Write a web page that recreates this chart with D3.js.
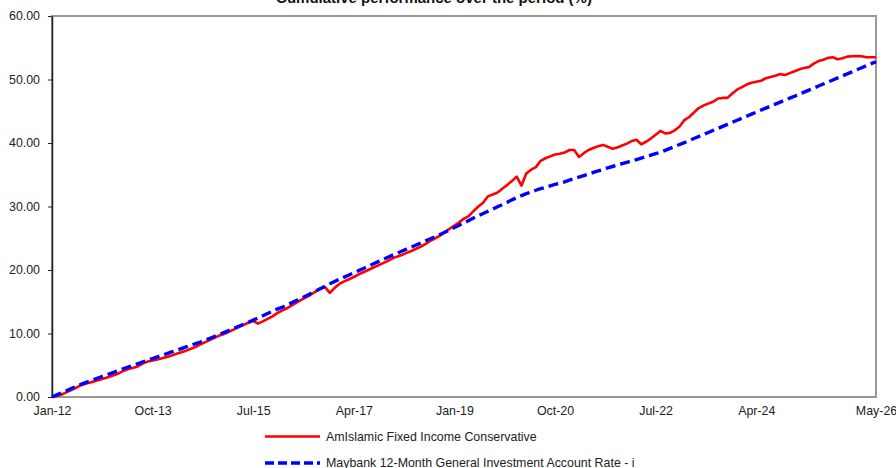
<!DOCTYPE html>
<html><head><meta charset="utf-8">
<script src="https://cdn.jsdelivr.net/npm/d3@7"></script>
<style>
html,body{margin:0;padding:0;background:#fff;overflow:hidden;}
svg{display:block;font-family:"Liberation Sans",Arial,sans-serif;}
</style></head>
<body>
<script>
const title = "Cumulative performance over the period (%)";
const seriesNames = ["AmIslamic Fixed Income Conservative", "Maybank 12-Month General Investment Account Rate - i"];
// monthly points from Jan-12 (index 0) to May-26 (index 172)
const fundValues = [
 0,0.15,0.4,0.72,1.08,1.45,1.85,2.1,2.3,2.5,2.72,2.95,
 3.2,3.45,3.75,4.15,4.4,4.6,4.85,5.3,5.6,5.75,5.9,6.1,
 6.3,6.55,6.8,7.05,7.3,7.6,7.9,8.3,8.65,9.0,9.35,9.7,
 9.95,10.3,10.65,11.0,11.35,11.7,12.0,11.55,11.9,12.3,12.7,13.2,
 13.6,13.95,14.4,14.85,15.3,15.7,16.1,16.6,17.1,17.3,16.4,17.2,
 17.8,18.2,18.55,18.9,19.3,19.65,20.0,20.35,20.7,21.05,21.4,21.8,
 22.1,22.35,22.7,23.0,23.35,23.7,24.1,24.6,25.0,25.4,26.0,26.5,
 27.0,27.5,28.1,28.5,29.3,30.0,30.6,31.6,31.9,32.2,32.8,33.4,
 34.0,34.7,33.3,35.2,35.8,36.2,37.2,37.6,37.9,38.2,38.3,38.5,
 38.9,38.9,37.8,38.4,38.9,39.2,39.5,39.7,39.4,39.1,39.3,39.6,
 39.9,40.3,40.5,39.8,40.2,40.7,41.3,41.9,41.5,41.6,42.0,42.6,
 43.6,44.1,44.8,45.5,45.9,46.2,46.5,47.0,47.1,47.1,47.8,48.4,
 48.8,49.2,49.5,49.65,49.8,50.2,50.4,50.6,50.85,50.7,51.0,51.3,
 51.6,51.8,51.95,52.5,52.9,53.1,53.4,53.5,53.2,53.35,53.6,53.65,
 53.7,53.65,53.5,53.5,53.5
];
const benchValues = [
 0,0.33,0.66,0.99,1.32,1.65,1.98,2.26,2.54,2.82,3.10,3.38,
 3.65,3.92,4.19,4.46,4.73,5.00,5.27,5.54,5.80,6.06,6.32,6.58,
 6.84,7.10,7.36,7.62,7.88,8.14,8.40,8.66,8.95,9.25,9.55,9.85,
 10.18,10.5,10.82,11.14,11.46,11.78,12.1,12.45,12.8,13.15,13.5,13.85,
 14.1,14.46,14.82,15.18,15.54,15.92,16.3,16.68,17.06,17.44,17.82,18.2,
 18.54,18.88,19.22,19.56,19.9,20.24,20.6,20.94,21.28,21.62,21.96,22.3,
 22.62,22.95,23.28,23.61,23.94,24.27,24.6,24.93,25.26,25.6,25.95,26.3,
 26.7,27.06,27.42,27.8,28.2,28.55,28.9,29.25,29.6,29.95,30.3,30.65,
 31.05,31.4,31.72,32.02,32.3,32.56,32.8,33.03,33.25,33.47,33.68,33.89,
 34.15,34.4,34.64,34.88,35.12,35.36,35.6,35.84,36.08,36.3,36.52,36.74,
 36.96,37.18,37.4,37.62,37.85,38.08,38.32,38.56,38.85,39.15,39.45,39.76,
 40.07,40.38,40.7,41.02,41.34,41.66,41.98,42.3,42.62,42.94,43.26,43.58,
 43.9,44.22,44.54,44.86,45.18,45.5,45.82,46.13,46.44,46.75,47.06,47.37,
 47.69,48.01,48.33,48.65,48.97,49.29,49.61,49.93,50.25,50.57,50.89,51.21,
 51.53,51.85,52.17,52.49,52.8
];
const xTickIndex = [0,21,42,63,84,105,126,147,172];
const xTickLabels = ["Jan-12","Oct-13","Jul-15","Apr-17","Jan-19","Oct-20","Jul-22","Apr-24","May-26"];
const yTicks = [0,10,20,30,40,50,60];

const W = 896, H = 468;
const mLeft = 52, mRight = 876, mTop = 16, mBottom = 397;
const svg = d3.select("body").append("svg").attr("width", W).attr("height", H);

const x = d3.scaleLinear().domain([0, fundValues.length - 1]).range([mLeft, mRight]);
const y = d3.scaleLinear().domain([0, 60]).range([mBottom, mTop]);

// plot border
svg.append("rect").attr("x", mLeft).attr("y", mTop).attr("width", mRight - mLeft).attr("height", mBottom - mTop)
  .attr("fill", "none").attr("stroke", "#999").attr("stroke-width", 2);

// y axis
const yAxis = svg.append("g").attr("transform", `translate(${mLeft},0)`)
  .call(d3.axisLeft(y).tickValues(yTicks).tickFormat(d3.format(".2f")).tickSizeInner(4).tickSizeOuter(0).tickPadding(8));
yAxis.select(".domain").attr("stroke", "#222").attr("stroke-width", 1.5);
yAxis.selectAll(".tick line").attr("stroke", "#222");
yAxis.selectAll("text").attr("font-size", "12.4px").attr("fill", "#222").attr("font-family", "Liberation Sans, Arial, sans-serif");

// x axis labels
const xAxis = svg.append("g").attr("transform", `translate(0,${mBottom})`)
  .call(d3.axisBottom(x).tickValues(xTickIndex).tickFormat((d, i) => xTickLabels[i]).tickSize(0).tickPadding(9));
xAxis.select(".domain").remove();
xAxis.selectAll("text").attr("font-size", "12.4px").attr("fill", "#222").attr("font-family", "Liberation Sans, Arial, sans-serif");

const line = d3.line().x((d, i) => x(i)).y(d => y(d));

svg.append("path").datum(fundValues).attr("d", line)
  .attr("fill", "none").attr("stroke", "#ff0000").attr("stroke-width", 2.6).attr("stroke-linejoin", "round");
svg.append("path").datum(benchValues).attr("d", line)
  .attr("fill", "none").attr("stroke", "#0000ff").attr("stroke-width", 3.4).attr("stroke-dasharray", "10,5");

// title
svg.append("text").attr("x", 434).attr("y", 3).attr("text-anchor", "middle")
  .attr("font-size", "15px").attr("font-weight", "bold").attr("fill", "#111").text(title);

// legend
const legend = svg.append("g");
const ly = [436.5, 463];
seriesNames.forEach((name, i) => {
  legend.append("line").attr("x1", 265).attr("x2", 320).attr("y1", ly[i]).attr("y2", ly[i])
    .attr("stroke", i === 0 ? "#ff0000" : "#0000ff").attr("stroke-width", i === 0 ? 2.6 : 3.4)
    .attr("stroke-dasharray", i === 0 ? null : "9,4");
  legend.append("text").attr("x", 326).attr("y", ly[i]).attr("dy", "0.35em")
    .attr("font-size", "12.4px").attr("fill", "#222").text(name);
});
</script>
</body></html>
